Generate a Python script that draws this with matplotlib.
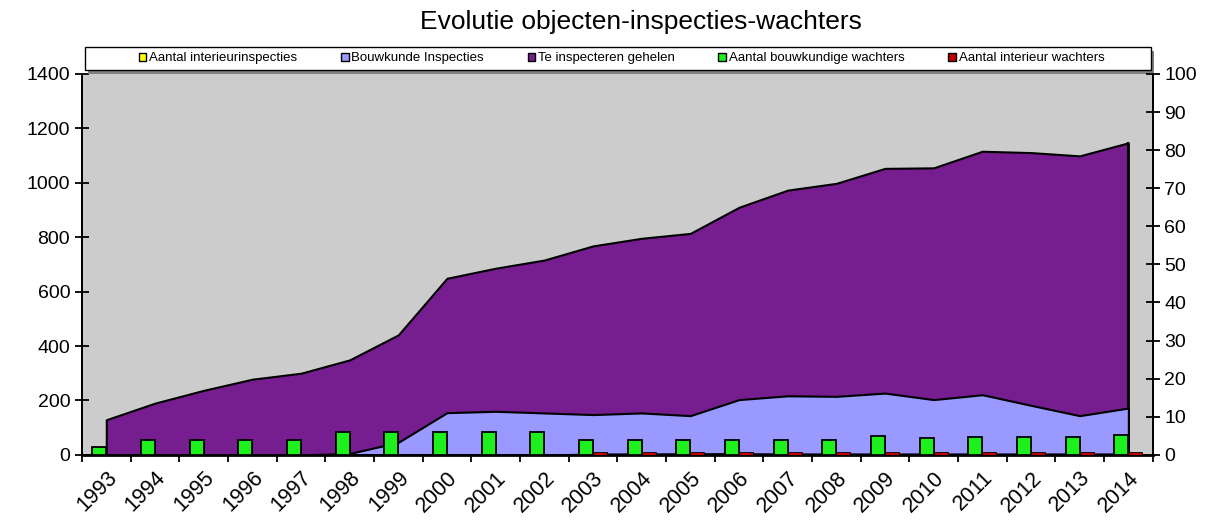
import numpy as np
import matplotlib.pyplot as plt
from matplotlib.patches import Patch, Rectangle

plt.rcParams['font.family'] = ['Liberation Sans', 'DejaVu Sans']

# -------- data --------
years = [str(y) for y in range(1993, 2015)]
interieur_insp = [0, 0, 0, 0, 0, 0, 0, 0, 0, 0, 4, 4, 5, 5, 4, 4, 4, 4, 4, 4, 4, 4]
bouwkunde_insp = [0, 0, 0, 0, 0, 5, 46, 155, 160, 154, 148, 154, 144, 203, 217, 215,
                  227, 203, 221, 182, 144, 172]
te_inspecteren = [129, 190, 237, 278, 300, 349, 441, 649, 686, 716, 768, 796, 814, 910,
                  973, 998, 1053, 1055, 1116, 1111, 1099, 1147]
bouw_wachters = [2, 4, 4, 4, 4, 6, 6, 6, 6, 6, 4, 4, 4, 4, 4, 4, 5, 4.5, 4.6, 4.6, 4.6, 5.2]
int_wachters = [0, 0, 0, 0, 0, 0, 0, 0, 0, 0, 0.8, 0.8, 0.8, 0.8, 0.8, 0.8, 0.8, 0.8,
                0.8, 0.8, 0.8, 0.8]

labels = ["Aantal interieurinspecties", "Bouwkunde Inspecties", "Te inspecteren gehelen",
          "Aantal bouwkundige wachters", "Aantal interieur wachters"]
colors = ["#ffff00", "#9999ff", "#761d8f", "#1ef01e", "#c00000"]

x = np.arange(len(years))

fig = plt.figure(figsize=(12.14, 5.21), dpi=100)
ax = fig.add_axes([0.0675, 0.127, 0.882, 0.731])
ax.set_facecolor("#cccccc")

# -------- areas (left axis) --------
ax.fill_between(x, te_inspecteren, color=colors[2], edgecolor="black", lw=1.5, zorder=2)
ax.plot([x[-1], x[-1]], [0, te_inspecteren[-1]], color="black", lw=1.5, zorder=2)
ax.fill_between(x, bouwkunde_insp, color=colors[1], edgecolor="black", lw=1.5, zorder=3)
ax.fill_between(x, interieur_insp, color=colors[0], edgecolor="black", lw=1.2, zorder=4)

ax.set_xlim(-0.5, len(years) - 0.5)
ax.set_ylim(0, 1400)
ax.set_yticks(range(0, 1401, 200))
ax.set_xticks(np.arange(len(years) + 1) - 0.5)
ax.set_xticklabels([])
ax.set_xticks(x, minor=True)
ax.set_xticklabels(years, minor=True, rotation=45, ha="right", rotation_mode="anchor")
ax.tick_params(axis="x", which="minor", length=0, labelsize=15.5, pad=9)
ax.tick_params(axis="x", which="major", direction="inout", length=10, width=1.3)
ax.tick_params(axis="y", direction="inout", length=10, width=1.3, labelsize=14)

# -------- bars (right axis) --------
ax2 = ax.twinx()
w = 0.29
ax2.bar(x - w / 2, bouw_wachters, width=w, color=colors[3], edgecolor="black", lw=1.3, zorder=5)
ax2.bar(x + w / 2, int_wachters, width=w, color=colors[4], edgecolor="black", lw=0.6, zorder=5)
ax2.set_ylim(0, 100)
ax2.set_yticks(range(0, 101, 10))
ax2.tick_params(axis="y", direction="inout", length=10, width=1.3, labelsize=14)

for a in (ax, ax2):
    for s in a.spines.values():
        s.set_linewidth(1.3)
    a.spines["top"].set_visible(False)
ax.spines["bottom"].set_linewidth(2)

# -------- title + legend --------
fig.text(0.528, 0.958, "Evolutie objecten-inspecties-wachters", ha="center", va="center",
         fontsize=19)

# legend box with shadow
ax.add_patch(Rectangle((0.006, 1.0005), 0.995, 0.06, transform=ax.transAxes,
                       facecolor="#808080", edgecolor="none", clip_on=False, zorder=9))
ax.add_patch(Rectangle((0.003, 1.0105), 0.995, 0.06, transform=ax.transAxes,
                       facecolor="white", edgecolor="black", lw=1, clip_on=False, zorder=10))

handles = [Patch(facecolor=c, edgecolor="black", lw=1) for c in colors]
leg = ax.legend(handles, labels, ncol=5, loc="center", bbox_to_anchor=(0.504, 1.041),
                fontsize=9.5, frameon=False, handlelength=0.6, handleheight=0.6,
                handletextpad=0.2, columnspacing=3.3, borderpad=0)
leg.set_zorder(11)

plt.savefig("out.png", dpi=100)
